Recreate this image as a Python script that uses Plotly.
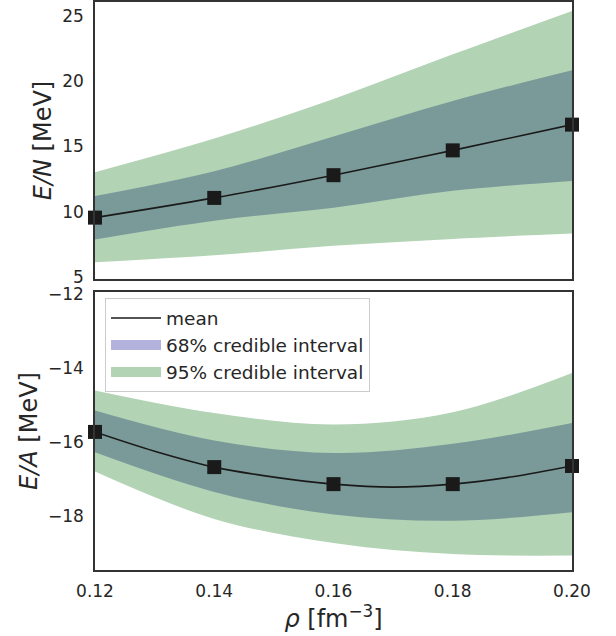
import plotly.graph_objects as go

# ---- data ----
rho = [0.12, 0.14, 0.16, 0.18, 0.20]

# pure neutron matter E/N [MeV]
en_mean = [9.55, 11.06, 12.80, 14.70, 16.67]
en_lo68 = [7.88, 9.32, 10.30, 11.60, 12.35]
en_hi68 = [11.20, 13.10, 15.76, 18.48, 20.83]
en_lo95 = [6.14, 6.67, 7.39, 7.92, 8.33]
en_hi95 = [13.03, 15.60, 18.64, 22.05, 25.38]

# symmetric nuclear matter E/A [MeV]
ea_mean = [-15.73, -16.68, -17.14, -17.14, -16.65]
ea_lo68 = [-16.28, -17.35, -17.96, -18.13, -17.90]
ea_hi68 = [-15.15, -15.96, -16.30, -16.05, -15.49]
ea_lo95 = [-16.80, -18.08, -18.73, -19.03, -19.07]
ea_hi95 = [-14.61, -15.22, -15.53, -15.20, -14.14]

# mean curve of E/A read at finer density steps
rho_fine = [0.12, 0.13, 0.14, 0.15, 0.16, 0.17, 0.18, 0.19, 0.20]
ea_mean_fine = [-15.73, -16.25, -16.68, -16.95, -17.14, -17.22, -17.14, -16.94, -16.65]

x_ticks = [0.12, 0.14, 0.16, 0.18, 0.20]
x_ticktext = ["0.12", "0.14", "0.16", "0.18", "0.20"]
en_ticks = [5, 10, 15, 20, 25]
ea_ticks = [-18, -16, -14, -12]

GREEN = "rgb(179,211,181)"
TEAL = "rgb(122,154,153)"
PURPLE = "rgb(178,178,221)"
DARK = "#1a1a1a"
TXT = "#262626"

fig = go.Figure()


def band(xa, ya, lo, hi, color):
    fig.add_trace(go.Scatter(x=rho, y=lo, mode="lines", line=dict(width=0, shape="spline"),
                             xaxis=xa, yaxis=ya, showlegend=False, hoverinfo="skip"))
    fig.add_trace(go.Scatter(x=rho, y=hi, mode="lines", line=dict(width=0, shape="spline"),
                             fill="tonexty", fillcolor=color,
                             xaxis=xa, yaxis=ya, showlegend=False, hoverinfo="skip"))


# top panel
band("x", "y", en_lo95, en_hi95, GREEN)
band("x", "y", en_lo68, en_hi68, TEAL)
fig.add_trace(go.Scatter(x=rho, y=en_mean, mode="lines", line=dict(color=DARK, width=1.6, shape="spline"),
                         xaxis="x", yaxis="y", showlegend=False))
fig.add_trace(go.Scatter(x=rho, y=en_mean, mode="markers",
                         marker=dict(symbol="square", size=14, color=DARK),
                         xaxis="x", yaxis="y", showlegend=False, cliponaxis=False))

# bottom panel
band("x2", "y2", ea_lo95, ea_hi95, GREEN)
band("x2", "y2", ea_lo68, ea_hi68, TEAL)
fig.add_trace(go.Scatter(x=rho_fine, y=ea_mean_fine, mode="lines",
                         line=dict(color=DARK, width=1.6, shape="spline"),
                         xaxis="x2", yaxis="y2", showlegend=False))
fig.add_trace(go.Scatter(x=rho, y=ea_mean, mode="markers",
                         marker=dict(symbol="square", size=14, color=DARK),
                         xaxis="x2", yaxis="y2", showlegend=False, cliponaxis=False))

# legend entries
fig.add_trace(go.Scatter(x=[None], y=[None], mode="lines", line=dict(color=DARK, width=1.6),
                         name="mean", xaxis="x2", yaxis="y2"))
fig.add_trace(go.Scatter(x=[None], y=[None], mode="lines", line=dict(color=PURPLE, width=15),
                         name="68% credible interval", xaxis="x2", yaxis="y2"))
fig.add_trace(go.Scatter(x=[None], y=[None], mode="lines", line=dict(color=GREEN, width=15),
                         name="95% credible interval", xaxis="x2", yaxis="y2"))

axis_common = dict(showline=True, mirror=True, linecolor="#333333", linewidth=1.5,
                   showgrid=False, zeroline=False, ticks="outside",
                   tickcolor="rgba(0,0,0,0)", automargin=False,
                   tickfont=dict(size=17, color=TXT, family="DejaVu Sans"))

fig.update_layout(
    width=616, height=636,
    margin=dict(l=95, r=44, t=2, b=66),
    paper_bgcolor="white", plot_bgcolor="white",
    font=dict(family="DejaVu Sans", color=TXT),
    xaxis=dict(domain=[0, 1], range=[0.12, 0.20], anchor="y", showticklabels=False,
               matches="x2", ticklen=6, **axis_common),
    yaxis=dict(domain=[0.5123, 1], range=[4.85, 26.06], tickvals=en_ticks, ticklen=6,
               title=dict(text="<i>E/N</i> [MeV]", font=dict(size=24, color=TXT), standoff=4),
               **axis_common),
    xaxis2=dict(domain=[0, 1], range=[0.12, 0.20], anchor="y2", tickvals=x_ticks,
                ticktext=x_ticktext, ticklen=5,
                title=dict(text="<i>ρ</i> [fm<sup>−3</sup>]", font=dict(size=24, color=TXT), standoff=6),
                **axis_common),
    yaxis2=dict(domain=[0, 0.4894], range=[-19.46, -11.95], tickvals=ea_ticks, ticklen=6,
                title=dict(text="<i>E/A</i> [MeV]", font=dict(size=24, color=TXT), standoff=4),
                **axis_common),
    legend=dict(x=0.021, y=0.478, xanchor="left", yanchor="top",
                bgcolor="white", bordercolor="#cccccc", borderwidth=1,
                font=dict(size=18.5, color=TXT, family="DejaVu Sans"),
                traceorder="normal", itemwidth=50, tracegroupgap=0),
)

fig.write_html("out.html")
